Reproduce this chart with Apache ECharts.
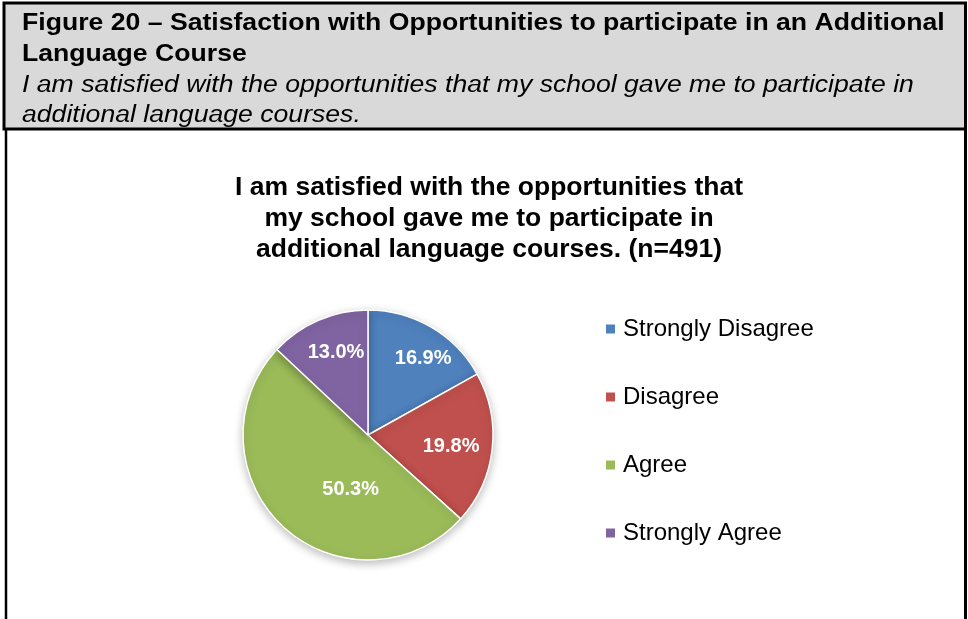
<!DOCTYPE html>
<html>
<head>
<meta charset="utf-8">
<script src="https://cdn.jsdelivr.net/npm/echarts@6/dist/echarts.min.js"></script>
<style>
html,body{margin:0;padding:0;background:#fff;}
#chart{width:968px;height:619px;}
</style>
</head>
<body>
<div id="chart"></div>
<script>
const categories = ['Strongly Disagree', 'Disagree', 'Agree', 'Strongly Agree'];
const percentValues = [16.9, 19.8, 50.3, 13.0];
const sliceColors = ['#4F81BD', '#C0504D', '#9BBB59', '#8064A2'];
const headerTitleLines = ['Figure 20 \u2013 Satisfaction with Opportunities to participate in an Additional', 'Language Course'];
const headerSubtitleLines = ['I am satisfied with the opportunities that my school gave me to participate in', 'additional language courses.'];
const chartTitle = 'I am satisfied with the opportunities that\nmy school gave me to participate in\nadditional language courses. (n=491)';

const labelNudge = [[22, -20], [18, 4], [27, 6], [-6, -22]];

const chart = echarts.init(document.getElementById('chart'), null, {renderer: 'canvas'});
const FONT = 'Arial, "Liberation Sans", sans-serif';

const graphics = [
  {type: 'rect', shape: {x: 4, y: 3, width: 961.5, height: 126}, style: {fill: '#D9D9D9', stroke: '#000', lineWidth: 3}, z: 0},
  {type: 'line', shape: {x1: 6, y1: 129, x2: 6, y2: 619}, style: {stroke: '#000', lineWidth: 2.5}},
  {type: 'line', shape: {x1: 965.5, y1: 129, x2: 965.5, y2: 619}, style: {stroke: '#000', lineWidth: 3}}
];
headerTitleLines.forEach((t, i) => graphics.push({
  type: 'text', x: 22, y: 12 + i * 31, scaleX: 1.157, z: 5,
  style: {text: t, font: 'bold 23px ' + FONT, fill: '#000', verticalAlign: 'top'}
}));
headerSubtitleLines.forEach((t, i) => graphics.push({
  type: 'text', x: 22, y: 74 + i * 30.5, scaleX: 1.157, z: 5,
  style: {text: t, font: 'italic 23px ' + FONT, fill: '#000', verticalAlign: 'top'}
}));

chart.setOption({
  animation: false,
  backgroundColor: '#fff',
  color: sliceColors,
  title: {
    text: chartTitle,
    left: 484, top: 167, textAlign: 'center',
    textStyle: {fontFamily: FONT, fontWeight: 'bold', fontSize: 26.5, lineHeight: 31, color: '#000'}
  },
  legend: {
    orient: 'vertical', left: 601, top: 312,
    itemWidth: 9, itemHeight: 9, itemGap: 44, icon: 'rect',
    itemStyle: {borderWidth: 0, shadowBlur: 0},
    data: categories,
    textStyle: {fontFamily: FONT, fontSize: 24, color: '#000', lineHeight: 24, padding: [0, 0, 0, 3]}
  },
  graphic: graphics,
  series: [{
    type: 'pie',
    center: [368, 435], radius: 125,
    startAngle: 90, clockwise: true,
    data: categories.map((c, i) => ({
      name: c, value: percentValues[i],
      label: {offset: labelNudge[i]}
    })),
    itemStyle: {borderColor: '#fff', borderWidth: 1.5, shadowBlur: 8, shadowOffsetY: 3, shadowColor: 'rgba(0,0,0,0.25)'},
    label: {
      position: 'inside', color: '#fff', fontFamily: FONT, fontWeight: 'bold', fontSize: 20,
      formatter: p => p.value.toFixed(1) + '%'
    },
    labelLine: {show: false},
    emphasis: {disabled: true}
  }]
});
</script>
</body>
</html>
